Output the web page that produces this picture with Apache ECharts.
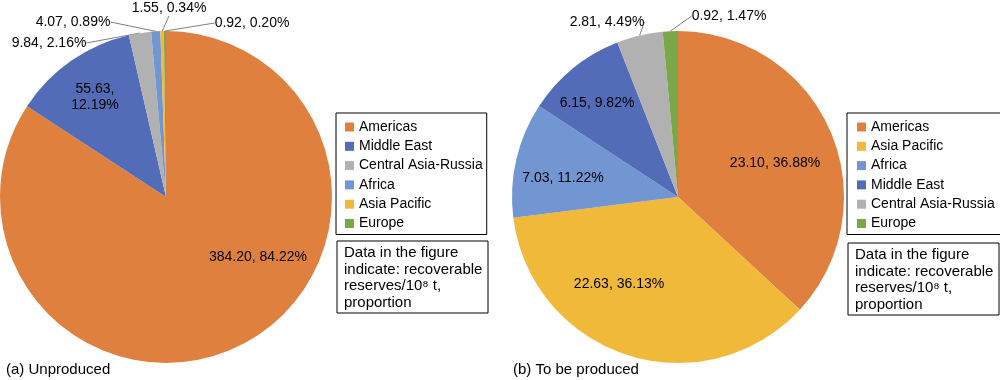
<!DOCTYPE html>
<html><head><meta charset="utf-8">
<script src="https://cdn.jsdelivr.net/npm/echarts@6/dist/echarts.min.js"></script>
<style>html,body{margin:0;padding:0;background:#fff}#c{width:1000px;height:380px}</style>
</head><body><div id="c"></div>
<script>
// ---- data ----
const regionsA = ['Americas', 'Middle East', 'Central Asia-Russia', 'Africa', 'Asia Pacific', 'Europe'];
const valuesA = [384.20, 55.63, 9.84, 4.07, 1.55, 0.92];
const regionsB = ['Americas', 'Asia Pacific', 'Africa', 'Middle East', 'Central Asia-Russia', 'Europe'];
const valuesB = [23.10, 22.63, 7.03, 6.15, 2.81, 0.92];
const panelTitles = ['(a) Unproduced', '(b) To be produced'];
const noteLines = ['Data in the figure', 'indicate: recoverable', 'reserves/10\u2078 t,', 'proportion'];

// ---- styles ----
const FONT = "'Liberation Sans', Arial, sans-serif";
const colorOf = {
  'Americas': '#E0803F',
  'Middle East': '#536CB8',
  'Central Asia-Russia': '#B1B1B1',
  'Africa': '#7296D2',
  'Asia Pacific': '#F1B93A',
  'Europe': '#7AA848'
};
// label placement (layout only): [x, y, inside?]
const labelPosA = {
  'Americas': [258, 257, true],
  'Middle East': [95, 97, true],
  'Central Asia-Russia': [49, 43, false],
  'Africa': [73, 22, false],
  'Asia Pacific': [169, 8, false],
  'Europe': [252, 23, false]
};
const labelPosB = {
  'Americas': [775, 163, true],
  'Asia Pacific': [619, 284, true],
  'Africa': [563, 178, true],
  'Middle East': [597, 103, true],
  'Central Asia-Russia': [607, 22, false],
  'Europe': [729, 16, false]
};

function buildData(names, vals, pos) {
  const sum = vals.reduce((a, b) => a + b, 0);
  return names.map((n, i) => {
    const pct = (vals[i] / sum * 100).toFixed(2);
    let txt = vals[i].toFixed(2) + ', ' + pct + '%';
    if (n === 'Middle East' && names === regionsA) txt = vals[i].toFixed(2) + ',\n' + pct + '%';
    const inside = pos[n][2];
    return {
      name: n, value: vals[i],
      itemStyle: { color: colorOf[n] },
      label: { position: inside ? 'inside' : 'outside', formatter: txt },
      labelLine: { show: !inside }
    };
  });
}

function pieSeries(names, vals, pos, center) {
  return {
    type: 'pie',
    center: center,
    radius: 166,
    startAngle: 90,
    clockwise: true,
    avoidLabelOverlap: false,
    minShowLabelAngle: 0,
    silent: true,
    animation: false,
    itemStyle: { borderWidth: 0 },
    label: { show: true, color: '#000', fontFamily: FONT, fontSize: 14, lineHeight: 16 },
    labelLine: { show: true, length: 8, length2: 0, lineStyle: { color: '#7F7F7F', width: 1 } },
    labelLayout: function (p) {
      const pp = pos[names[p.dataIndex]];
      return { x: pp[0], y: pp[1], align: 'center', verticalAlign: 'middle' };
    },
    data: buildData(names, vals, pos)
  };
}

function legendOpt(names, left, padding) {
  return {
    orient: 'vertical',
    left: left, top: 113,
    data: names,
    icon: 'rect',
    itemWidth: 9, itemHeight: 9,
    itemGap: 5.3,
    padding: padding,
    borderColor: '#000', borderWidth: 1,
    selectedMode: false,
    textStyle: { fontFamily: FONT, fontSize: 14, color: '#000' }
  };
}

function noteBox(x, y) {
  return {
    type: 'group', left: x, top: y,
    children: [
      { type: 'rect', shape: { x: 0, y: 0, width: 151, height: 72 }, style: { fill: '#fff', stroke: '#000', lineWidth: 1 } },
      { type: 'text', x: 7, y: 4, style: { text: noteLines.join('\n'), font: '15px ' + FONT, lineHeight: 16.5, fill: '#000' } }
    ]
  };
}

const chart = echarts.init(document.getElementById('c'), null, { renderer: 'canvas' });
chart.setOption({
  backgroundColor: '#fff',
  animation: false,
  title: [
    { text: panelTitles[0], left: 6, top: 362, textStyle: { fontFamily: FONT, fontSize: 15, fontWeight: 'normal', color: '#000' }, padding: 0 },
    { text: panelTitles[1], left: 513, top: 362, textStyle: { fontFamily: FONT, fontSize: 15, fontWeight: 'normal', color: '#000' }, padding: 0 }
  ],
  legend: [legendOpt(regionsA, 336, [7, 4, 4, 9]), legendOpt(regionsB, 847, [7, 6, 4, 10])],
  graphic: [noteBox(336.5, 240.5), noteBox(847.5, 242.5)],
  series: [
    pieSeries(regionsA, valuesA, labelPosA, [166, 197]),
    pieSeries(regionsB, valuesB, labelPosB, [678, 197])
  ]
});
</script>
</body></html>
